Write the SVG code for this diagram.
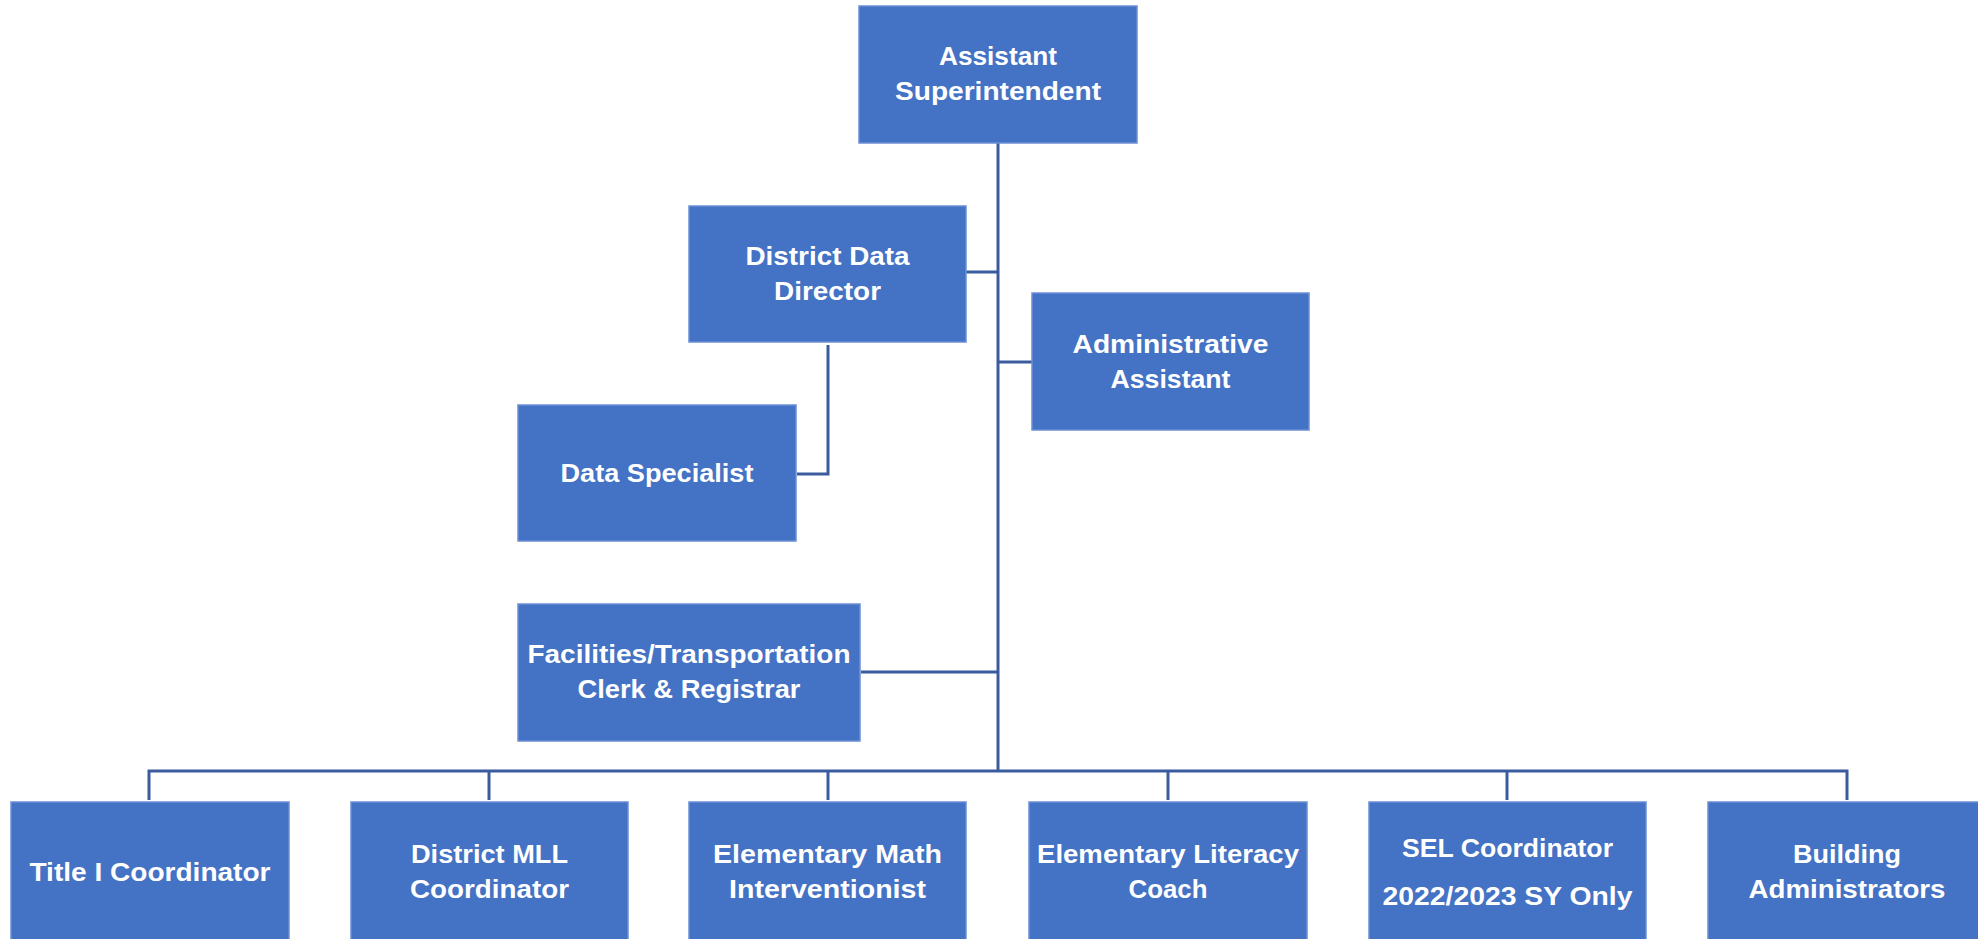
<svg xmlns="http://www.w3.org/2000/svg" width="1978" height="939" viewBox="0 0 1978 939">
<style>
.box{fill:#4472C4;stroke:#6B8FD3;stroke-width:1.5}
.t{font-family:"Liberation Sans",Arial,sans-serif;font-weight:bold;font-size:26px;fill:#FFFFFF;text-anchor:middle}
.c{fill:none;stroke:#3A5C9E;stroke-width:3}
</style>
<rect width="1978" height="939" fill="#FFFFFF"/>
<g id="connectors">
<path class="c" d="M998,143 V771"/>
<path class="c" d="M966,272 H998"/>
<path class="c" d="M998,362 H1032"/>
<path class="c" d="M828,345 V474 H797"/>
<path class="c" d="M861,672 H998"/>
<path class="c" d="M149,800 V771 H1847 V800"/>
<path class="c" d="M489,771 V800"/>
<path class="c" d="M828,771 V800"/>
<path class="c" d="M1168,771 V800"/>
<path class="c" d="M1507,771 V800"/>
</g>
<g id="n-assistant-superintendent">
<rect class="box" x="859" y="6" width="278" height="137"/>
<text class="t" x="998" y="65" textLength="118" lengthAdjust="spacingAndGlyphs">Assistant</text>
<text class="t" x="998" y="100" textLength="206" lengthAdjust="spacingAndGlyphs">Superintendent</text>
</g>
<g id="n-district-data-director">
<rect class="box" x="689" y="206" width="277" height="136"/>
<text class="t" x="827.5" y="265" textLength="164" lengthAdjust="spacingAndGlyphs">District Data</text>
<text class="t" x="827.5" y="300" textLength="107" lengthAdjust="spacingAndGlyphs">Director</text>
</g>
<g id="n-administrative-assistant">
<rect class="box" x="1032" y="293" width="277" height="137"/>
<text class="t" x="1170.5" y="353" textLength="196" lengthAdjust="spacingAndGlyphs">Administrative</text>
<text class="t" x="1170.5" y="388" textLength="120" lengthAdjust="spacingAndGlyphs">Assistant</text>
</g>
<g id="n-data-specialist">
<rect class="box" x="518" y="405" width="278" height="136"/>
<text class="t" x="657" y="482" textLength="193" lengthAdjust="spacingAndGlyphs">Data Specialist</text>
</g>
<g id="n-facilities">
<rect class="box" x="518" y="604" width="342" height="137"/>
<text class="t" x="689" y="663" textLength="323" lengthAdjust="spacingAndGlyphs">Facilities/Transportation</text>
<text class="t" x="689" y="698" textLength="223" lengthAdjust="spacingAndGlyphs">Clerk &amp; Registrar</text>
</g>
<g id="n-title-i">
<rect class="box" x="11" y="802" width="278" height="145"/>
<text class="t" x="150" y="881" textLength="241" lengthAdjust="spacingAndGlyphs">Title I Coordinator</text>
</g>
<g id="n-mll">
<rect class="box" x="351" y="802" width="277" height="145"/>
<text class="t" x="489.5" y="863" textLength="157" lengthAdjust="spacingAndGlyphs">District MLL</text>
<text class="t" x="489.5" y="898" textLength="159" lengthAdjust="spacingAndGlyphs">Coordinator</text>
</g>
<g id="n-math">
<rect class="box" x="689" y="802" width="277" height="145"/>
<text class="t" x="827.5" y="863" textLength="229" lengthAdjust="spacingAndGlyphs">Elementary Math</text>
<text class="t" x="827.5" y="898" textLength="197" lengthAdjust="spacingAndGlyphs">Interventionist</text>
</g>
<g id="n-literacy">
<rect class="box" x="1029" y="802" width="278" height="145"/>
<text class="t" x="1168" y="863" textLength="262" lengthAdjust="spacingAndGlyphs">Elementary Literacy</text>
<text class="t" x="1168" y="898" textLength="79" lengthAdjust="spacingAndGlyphs">Coach</text>
</g>
<g id="n-sel">
<rect class="box" x="1369" y="802" width="277" height="145"/>
<text class="t" x="1507.5" y="857" textLength="211" lengthAdjust="spacingAndGlyphs">SEL Coordinator</text>
<text class="t" x="1507.5" y="905" textLength="250" lengthAdjust="spacingAndGlyphs">2022/2023 SY Only</text>
</g>
<g id="n-building">
<rect class="box" x="1708" y="802" width="280" height="145"/>
<text class="t" x="1847" y="863" textLength="108" lengthAdjust="spacingAndGlyphs">Building</text>
<text class="t" x="1847" y="898" textLength="197" lengthAdjust="spacingAndGlyphs">Administrators</text>
</g>
</svg>
